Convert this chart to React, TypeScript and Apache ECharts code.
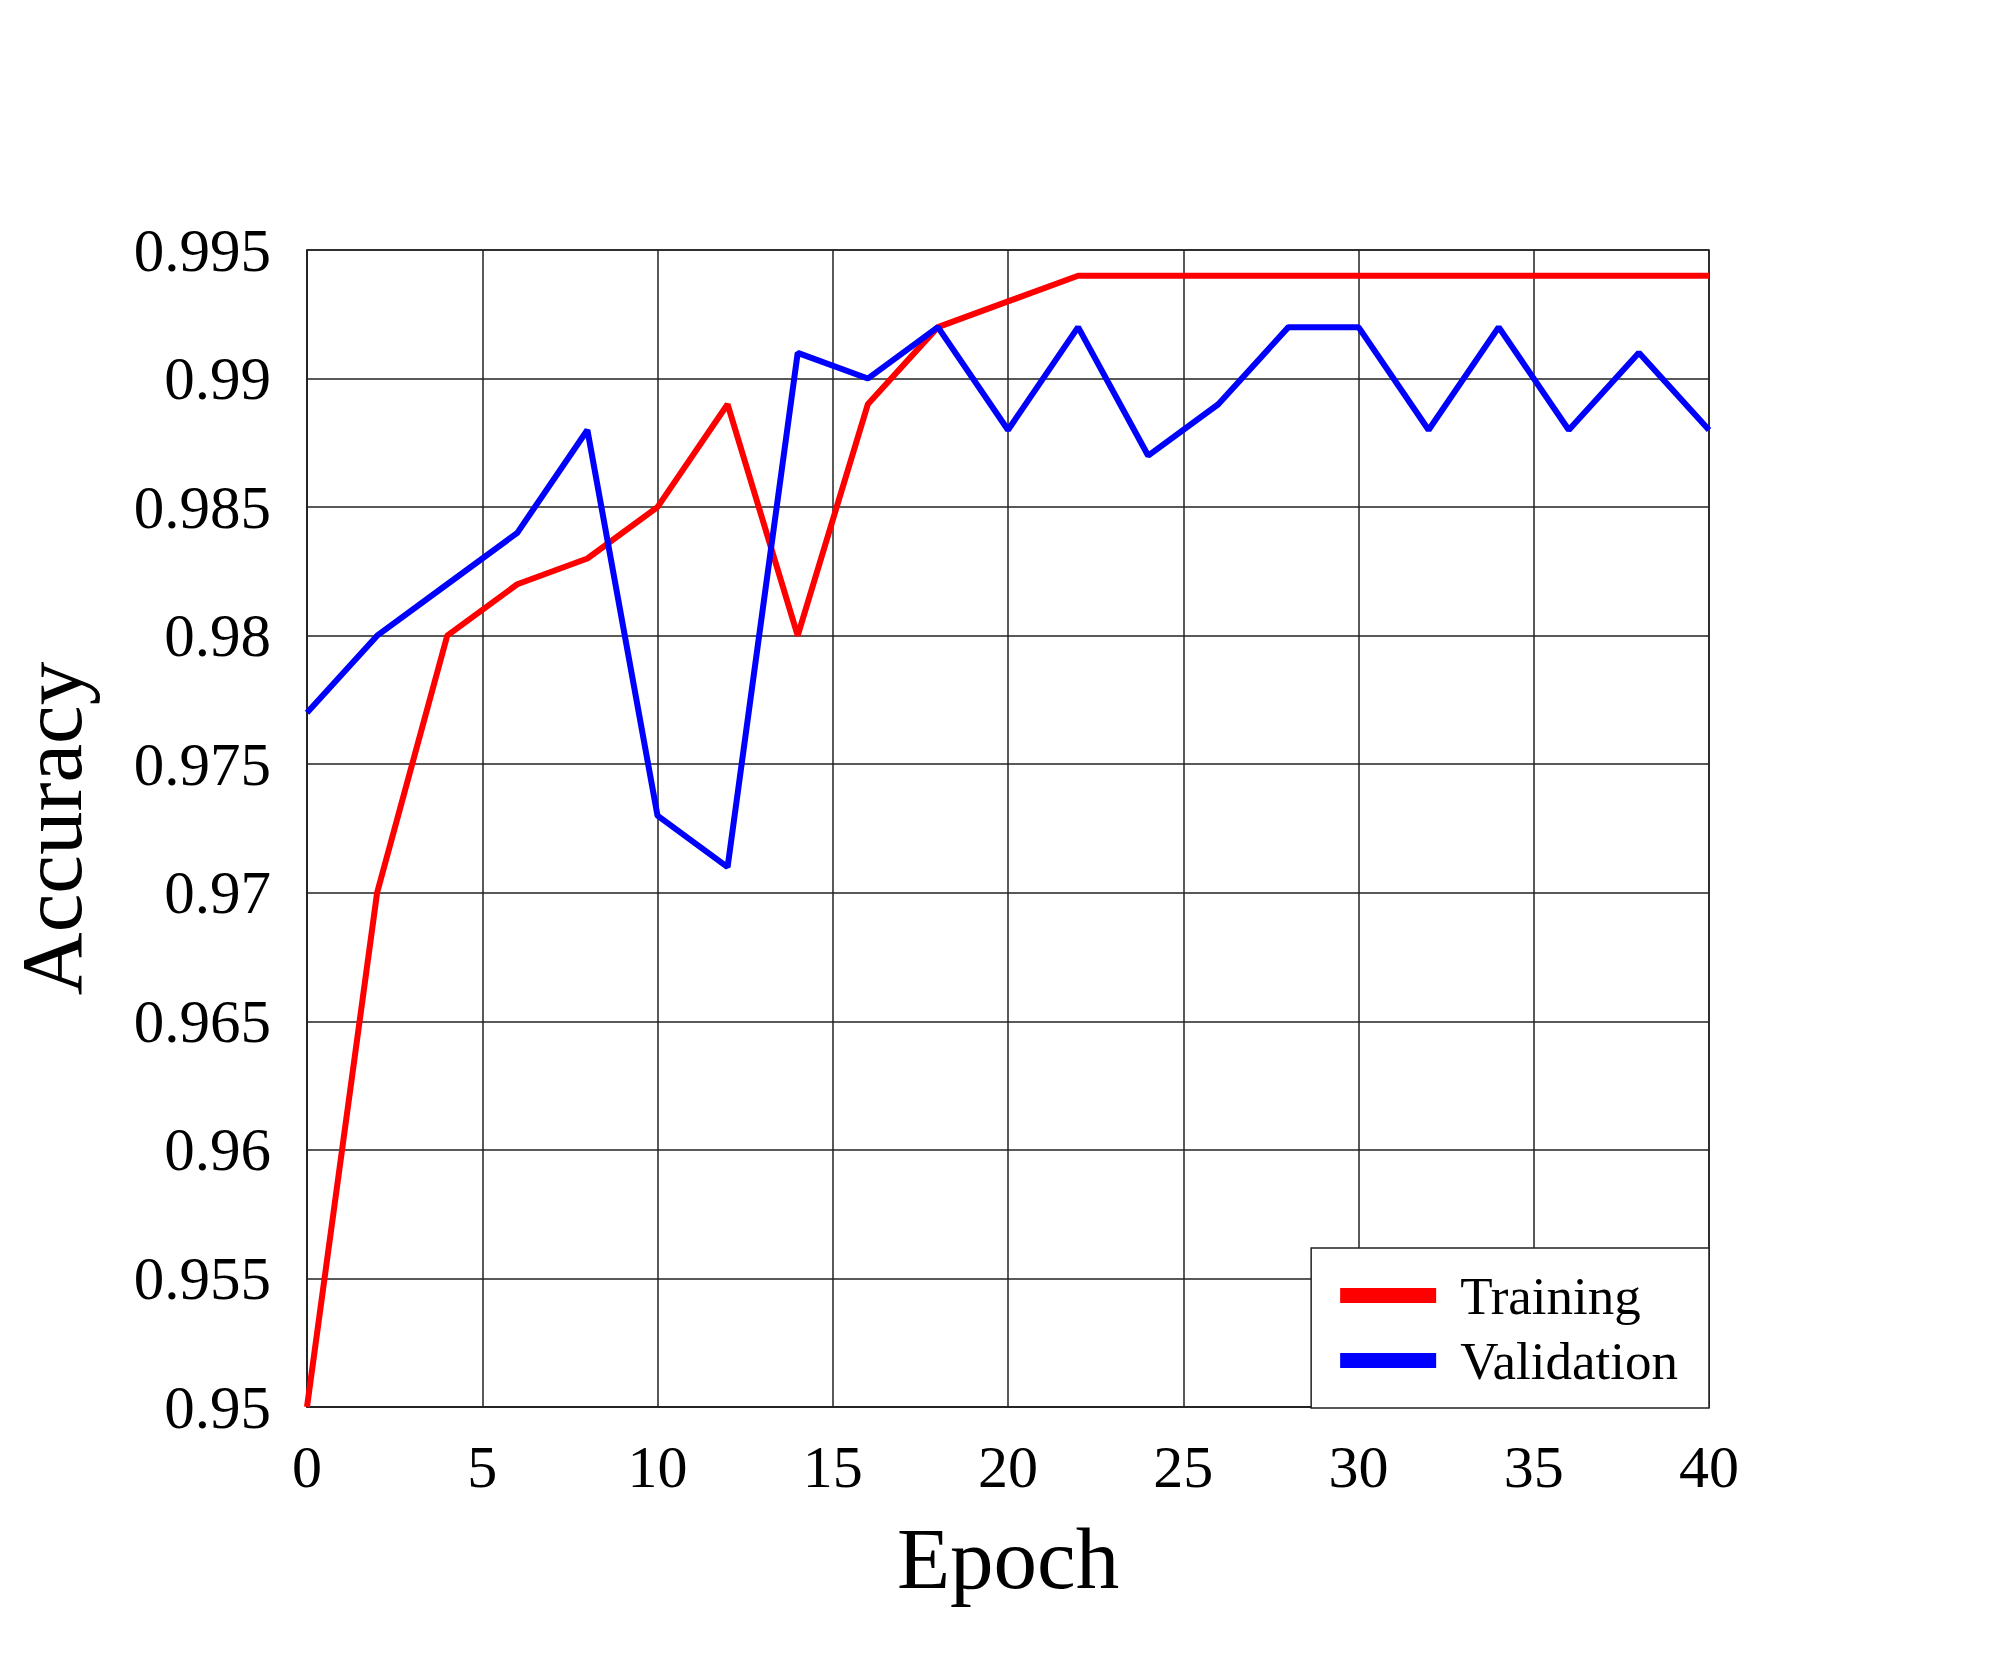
import React, { useEffect, useRef } from "react";
import * as echarts from "echarts";

const epochs = [0, 2, 4, 6, 8, 10, 12, 14, 16, 18, 20, 22, 24, 26, 28, 30, 32, 34, 36, 38, 40];
const training = [0.95, 0.97, 0.98, 0.982, 0.983, 0.985, 0.989, 0.98, 0.989, 0.992, 0.993, 0.994, 0.994, 0.994, 0.994, 0.994, 0.994, 0.994, 0.994, 0.994, 0.994];
const validation = [0.977, 0.98, 0.982, 0.984, 0.988, 0.973, 0.971, 0.991, 0.99, 0.992, 0.988, 0.992, 0.987, 0.989, 0.992, 0.992, 0.988, 0.992, 0.988, 0.991, 0.988];
const seriesNames = ["Training", "Validation"];
const seriesColors = ["#ff0000", "#0000ff"];
const yMin = 0.95;
const yMax = 0.995;
const yStep = 0.005;
const xMin = 0;
const xMax = 40;
const xStep = 5;

const FONT = "'Liberation Serif', 'Times New Roman', serif";

export default function App() {
  const ref = useRef<HTMLDivElement>(null);
  useEffect(() => {
    if (!ref.current) return;
    const chart = echarts.init(ref.current, undefined, { renderer: "svg" });
    const mk = (vals: number[]) => epochs.map((e, i) => [e, vals[i]]);
    chart.setOption({
      animation: false,
      backgroundColor: "#ffffff",
      grid: {
        left: 303,
        right: 304,
        top: 250,
        bottom: 251,
        show: true,
        borderColor: "#222",
        borderWidth: 1.5,
        backgroundColor: "transparent",
      },
      xAxis: {
        type: "value",
        min: xMin,
        max: xMax,
        interval: xStep,
        name: "Epoch",
        nameLocation: "middle",
        nameGap: 108,
        nameTextStyle: { fontFamily: FONT, fontSize: 87, color: "#000" },
        axisLine: { show: true, lineStyle: { color: "#222", width: 1.5 } },
        axisTick: { show: false },
        axisLabel: { fontFamily: FONT, fontSize: 60, color: "#000", margin: 30 },
        splitLine: { show: true, lineStyle: { color: "#222", width: 1.5 } },
      },
      yAxis: {
        type: "value",
        min: yMin,
        max: yMax,
        interval: yStep,
        name: "Accuracy",
        nameLocation: "middle",
        nameGap: 212,
        nameTextStyle: { fontFamily: FONT, fontSize: 87, color: "#000" },
        axisLine: { show: true, lineStyle: { color: "#222", width: 1.5 } },
        axisTick: { show: false },
        axisLabel: {
          fontFamily: FONT,
          fontSize: 61,
          color: "#000",
          margin: 36,
          formatter: (v: number) => String(parseFloat(v.toFixed(3))),
        },
        splitLine: { show: true, lineStyle: { color: "#222", width: 1.5 } },
      },
      legend: {
        right: 304,
        bottom: 250,
        orient: "vertical",
        backgroundColor: "#ffffff",
        borderColor: "#222",
        borderWidth: 1.5,
        borderRadius: 0,
        padding: [21, 31, 21, 29],
        itemWidth: 96,
        itemHeight: 15,
        itemGap: 12,
        icon: "rect",
        textStyle: { fontFamily: FONT, fontSize: 53, color: "#000", lineHeight: 52, padding: [0, 0, 0, 19] },
        data: seriesNames,
      },
      series: [
        {
          name: seriesNames[0],
          type: "line",
          data: mk(training),
          showSymbol: false,
          symbol: "none",
          lineStyle: { color: seriesColors[0], width: 6 },
          itemStyle: { color: seriesColors[0] },
          z: 3,
        },
        {
          name: seriesNames[1],
          type: "line",
          data: mk(validation),
          showSymbol: false,
          symbol: "none",
          lineStyle: { color: seriesColors[1], width: 6 },
          itemStyle: { color: seriesColors[1] },
          z: 4,
        },
      ],
    });
    return () => chart.dispose();
  }, []);
  return (
    <div
      ref={ref}
      style={{ position: "fixed", left: 0, top: 0, width: 2013, height: 1658, background: "#fff" }}
    />
  );
}
